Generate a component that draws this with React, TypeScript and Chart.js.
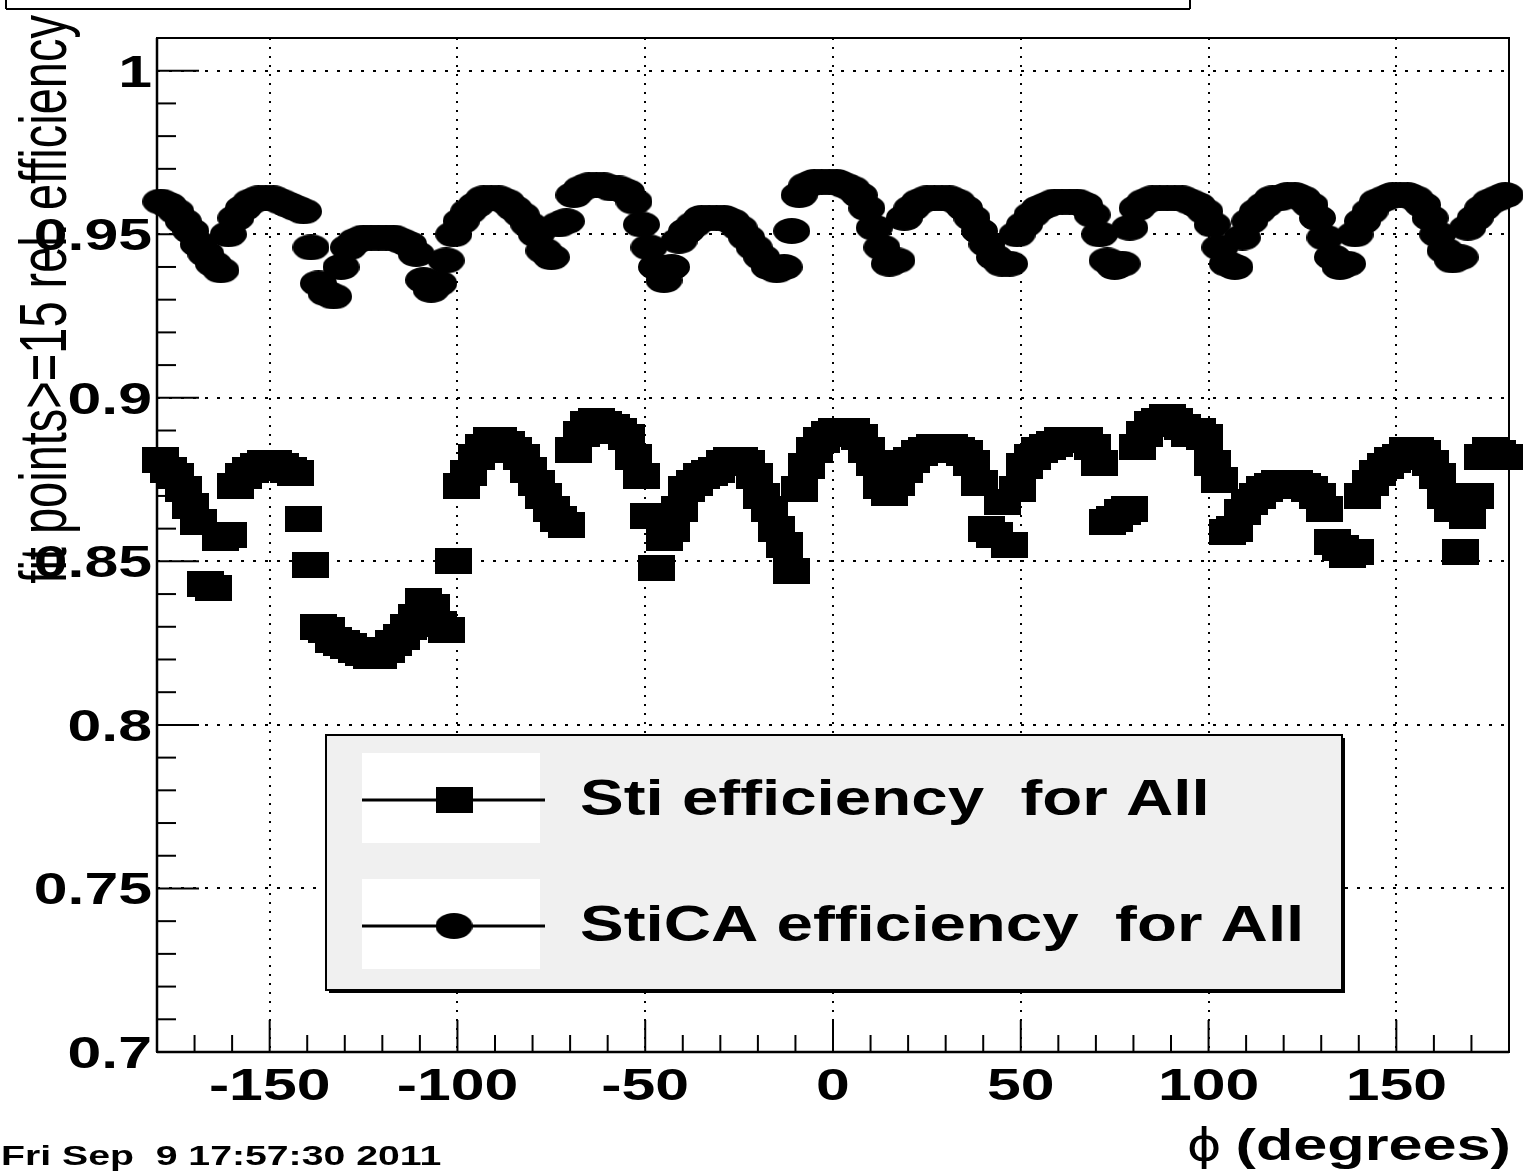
import React, { useEffect, useRef } from 'react';
import { Chart, registerables } from 'chart.js';

Chart.register(...registerables);

// phi bin centres (degrees)
const PHI = [
  -179, -177, -175, -173, -171, -169, -167, -165, -163, -161, -159, -157, -155, -153, -151,
  -149, -147, -145, -143, -141, -139, -137, -135, -133, -131, -129, -127, -125, -123, -121,
  -119, -117, -115, -113, -111, -109, -107, -105, -103, -101, -99, -97, -95, -93, -91,
  -89, -87, -85, -83, -81, -79, -77, -75, -73, -71, -69, -67, -65, -63, -61,
  -59, -57, -55, -53, -51, -49, -47, -45, -43, -41, -39, -37, -35, -33, -31,
  -29, -27, -25, -23, -21, -19, -17, -15, -13, -11, -9, -7, -5, -3, -1,
  1, 3, 5, 7, 9, 11, 13, 15, 17, 19, 21, 23, 25, 27, 29,
  31, 33, 35, 37, 39, 41, 43, 45, 47, 49, 51, 53, 55, 57, 59,
  61, 63, 65, 67, 69, 71, 73, 75, 77, 79, 81, 83, 85, 87, 89,
  91, 93, 95, 97, 99, 101, 103, 105, 107, 109, 111, 113, 115, 117, 119,
  121, 123, 125, 127, 129, 131, 133, 135, 137, 139, 141, 143, 145, 147, 149,
  151, 153, 155, 157, 159, 161, 163, 165, 167, 169, 171, 173, 175, 177, 179,
];

// Sti efficiency (squares)
const STI = [
  0.881, 0.878, 0.876, 0.872, 0.867, 0.862, 0.843, 0.842, 0.857, 0.858, 0.873, 0.876, 0.878, 0.879, 0.880,
  0.880, 0.879, 0.878, 0.877, 0.863, 0.849, 0.830, 0.829, 0.826, 0.825, 0.824, 0.823, 0.822, 0.821, 0.821,
  0.823, 0.825, 0.827, 0.830, 0.833, 0.838, 0.836, 0.831, 0.829, 0.850, 0.873, 0.877, 0.882, 0.885, 0.887,
  0.887, 0.886, 0.884, 0.882, 0.878, 0.874, 0.870, 0.866, 0.863, 0.861, 0.884, 0.889, 0.892, 0.893, 0.892,
  0.891, 0.890, 0.888, 0.882, 0.876, 0.864, 0.848, 0.857, 0.860, 0.866, 0.872, 0.874, 0.876, 0.877, 0.878,
  0.880, 0.881, 0.881, 0.880, 0.876, 0.870, 0.866, 0.860, 0.855, 0.847, 0.872, 0.879, 0.884, 0.887, 0.889,
  0.890, 0.890, 0.890, 0.888, 0.884, 0.880, 0.873, 0.871, 0.874, 0.878, 0.881, 0.883, 0.884, 0.885, 0.885,
  0.885, 0.884, 0.883, 0.880, 0.874, 0.860, 0.858, 0.868, 0.855, 0.872, 0.879, 0.882, 0.884, 0.885, 0.886,
  0.887, 0.887, 0.887, 0.887, 0.885, 0.880, 0.862, 0.863, 0.865, 0.866, 0.885, 0.889, 0.892, 0.893, 0.894,
  0.893, 0.891, 0.889, 0.890, 0.888, 0.880, 0.875, 0.859, 0.860, 0.865, 0.868, 0.870, 0.872, 0.873, 0.874,
  0.874, 0.874, 0.873, 0.872, 0.870, 0.866, 0.856, 0.854, 0.852, 0.853, 0.870, 0.874, 0.877, 0.879, 0.881,
  0.882, 0.884, 0.884, 0.883, 0.880, 0.876, 0.870, 0.866, 0.853, 0.864, 0.870, 0.882, 0.884, 0.883, 0.882,
];

// StiCA efficiency (circles)
const STICA = [
  0.960, 0.959, 0.957, 0.954, 0.951, 0.947, 0.944, 0.941, 0.939, 0.950, 0.955, 0.958, 0.960, 0.961, 0.961,
  0.961, 0.960, 0.959, 0.958, 0.957, 0.946, 0.935, 0.932, 0.931, 0.940, 0.946, 0.948, 0.949, 0.949, 0.949,
  0.949, 0.949, 0.948, 0.947, 0.944, 0.936, 0.933, 0.935, 0.942, 0.950, 0.954, 0.957, 0.959, 0.961, 0.961,
  0.961, 0.960, 0.958, 0.956, 0.953, 0.950, 0.945, 0.943, 0.953, 0.954, 0.962, 0.964, 0.965, 0.965, 0.965,
  0.964, 0.964, 0.963, 0.960, 0.953, 0.946, 0.940, 0.936, 0.940, 0.948, 0.951, 0.953, 0.955, 0.955, 0.955,
  0.955, 0.954, 0.952, 0.949, 0.946, 0.943, 0.940, 0.939, 0.940, 0.951, 0.962, 0.965, 0.966, 0.966, 0.966,
  0.966, 0.965, 0.964, 0.962, 0.958, 0.952, 0.946, 0.941, 0.942, 0.955, 0.958, 0.960, 0.961, 0.961, 0.961,
  0.961, 0.960, 0.958, 0.955, 0.951, 0.947, 0.943, 0.941, 0.941, 0.950, 0.953, 0.956, 0.958, 0.959, 0.960,
  0.960, 0.960, 0.960, 0.959, 0.956, 0.950, 0.942, 0.940, 0.941, 0.952, 0.958, 0.960, 0.961, 0.961, 0.961,
  0.961, 0.961, 0.960, 0.959, 0.957, 0.953, 0.946, 0.941, 0.940, 0.949, 0.954, 0.957, 0.959, 0.961, 0.961,
  0.962, 0.962, 0.961, 0.959, 0.955, 0.949, 0.943, 0.940, 0.941, 0.950, 0.954, 0.957, 0.960, 0.961, 0.962,
  0.962, 0.962, 0.961, 0.959, 0.955, 0.950, 0.945, 0.942, 0.943, 0.952, 0.955, 0.958, 0.960, 0.961, 0.962,
];

const X_TICKS = [-150, -100, -50, 0, 50, 100, 150];
const X_TICK_LABELS = ['-150', '-100', '-50', '0', '50', '100', '150'];
const Y_TICKS = [0.7, 0.75, 0.8, 0.85, 0.9, 0.95, 1];
const Y_TICK_LABELS = ['0.7', '0.75', '0.8', '0.85', '0.9', '0.95', '1'];
const SERIES_LABELS = ['Sti efficiency  for All', 'StiCA efficiency  for All'];
const Y_TITLE = 'fit points>=15 rel. efficiency';
const X_TITLE_SYMBOL = 'ϕ';
const X_TITLE_TEXT = '(degrees)';
const DATE_TEXT = 'Fri Sep  9 17:57:30 2011';

const FONT = '"Liberation Sans", Arial, sans-serif';
const MARK_W = 37;
const MARK_H = 26;

function makeMarker(kind: 'square' | 'circle'): HTMLCanvasElement {
  const c = document.createElement('canvas');
  c.width = MARK_W;
  c.height = MARK_H;
  const g = c.getContext('2d')!;
  g.fillStyle = '#000';
  if (kind === 'square') {
    g.fillRect(0, 0, MARK_W, MARK_H);
  } else {
    g.beginPath();
    g.ellipse(MARK_W / 2, MARK_H / 2, MARK_W / 2, MARK_H / 2, 0, 0, Math.PI * 2);
    g.fill();
  }
  return c;
}

function stretchText(
  ctx: CanvasRenderingContext2D,
  text: string,
  x: number,
  y: number,
  font: string,
  align: CanvasTextAlign,
  sx: number
) {
  ctx.save();
  ctx.font = font;
  ctx.textAlign = align;
  ctx.textBaseline = 'alphabetic';
  ctx.fillStyle = '#000';
  ctx.translate(x, y);
  ctx.scale(sx, 1);
  ctx.fillText(text, 0, 0);
  ctx.restore();
}

function line(ctx: CanvasRenderingContext2D, x1: number, y1: number, x2: number, y2: number) {
  ctx.beginPath();
  ctx.moveTo(x1, y1);
  ctx.lineTo(x2, y2);
  ctx.stroke();
}

export default function App() {
  const ref = useRef<HTMLCanvasElement | null>(null);

  useEffect(() => {
    const canvas = ref.current;
    if (!canvas) return;
    const square = makeMarker('square');
    const circle = makeMarker('circle');
    const markers = [square, circle];

    const decor = {
      id: 'rootDecor',
      afterDraw(chart: any) {
        const ctx: CanvasRenderingContext2D = chart.ctx;
        const xs = chart.scales.x;
        const ys = chart.scales.y;
        const { left, right, top, bottom } = chart.chartArea;
        ctx.save();
        ctx.strokeStyle = '#000';
        ctx.setLineDash([]);

        // title box remnant at the top
        ctx.lineWidth = 2;
        line(ctx, 6, 0, 6, 9);
        line(ctx, 6, 9, 1190, 9);
        line(ctx, 1190, 0, 1190, 9);

        // frame
        ctx.lineWidth = 2;
        ctx.strokeRect(left, top, right - left, bottom - top);
        ctx.lineWidth = 2.5;
        line(ctx, left, top, left, bottom);
        line(ctx, left, bottom, right, bottom);

        // x ticks
        ctx.lineWidth = 2;
        for (let v = -170; v <= 170; v += 10) {
          const px = xs.getPixelForValue(v);
          const major = X_TICKS.includes(v);
          line(ctx, px, bottom, px, bottom - (major ? 32 : 17));
        }
        // y ticks
        for (let k = 71; k <= 100; k++) {
          const v = k / 100;
          const py = ys.getPixelForValue(v);
          const major = k % 5 === 0;
          line(ctx, left, py, left + (major ? 42 : 19), py);
        }

        // tick labels
        const tickFont = `bold 44px ${FONT}`;
        X_TICKS.forEach((v, i) => {
          stretchText(ctx, X_TICK_LABELS[i], xs.getPixelForValue(v), 1100, tickFont, 'center', 1.38);
        });
        Y_TICKS.forEach((v, i) => {
          stretchText(ctx, Y_TICK_LABELS[i], 152, ys.getPixelForValue(v) + 16, tickFont, 'right', 1.38);
        });

        // x title
        ctx.save();
        ctx.font = `bold 45px ${FONT}`;
        const tw = ctx.measureText(X_TITLE_TEXT).width * 1.36;
        ctx.restore();
        stretchText(ctx, X_TITLE_TEXT, 1511, 1160, `bold 45px ${FONT}`, 'right', 1.36);
        stretchText(ctx, X_TITLE_SYMBOL, 1511 - tw - 14, 1160, `44px "DejaVu Sans", ${FONT}`, 'right', 1.2);

        // y title
        ctx.save();
        ctx.translate(66, 15);
        ctx.rotate(-Math.PI / 2);
        ctx.scale(1, 1.42);
        ctx.font = `47px ${FONT}`;
        ctx.textAlign = 'right';
        ctx.textBaseline = 'alphabetic';
        ctx.fillStyle = '#000';
        ctx.fillText(Y_TITLE, 0, 0);
        ctx.restore();

        // date stamp
        stretchText(ctx, DATE_TEXT, 1, 1165, `bold 28px ${FONT}`, 'left', 1.4);

        // legend
        const lx = 326, ly = 735, lw = 1016, lh = 255;
        ctx.fillStyle = '#000';
        ctx.fillRect(lx + 3, ly + 3, lw, lh);
        ctx.fillStyle = '#f0f0f0';
        ctx.fillRect(lx, ly, lw, lh);
        ctx.lineWidth = 2;
        ctx.strokeRect(lx, ly, lw, lh);
        const rows = [800, 926];
        rows.forEach((cy, i) => {
          ctx.fillStyle = '#ffffff';
          ctx.fillRect(362, cy - 47, 178, 90);
          ctx.strokeStyle = '#000';
          ctx.lineWidth = 3;
          line(ctx, 362, cy, 545, cy);
          const m = markers[i];
          ctx.drawImage(m, 454 - m.width / 2, cy - m.height / 2);
          stretchText(ctx, SERIES_LABELS[i], 580, cy + 15, `bold 50px ${FONT}`, 'left', 1.31);
        });
        ctx.restore();
      },
    };

    const chart = new Chart(canvas, {
      type: 'scatter',
      data: {
        datasets: [
          {
            label: SERIES_LABELS[0],
            data: PHI.map((x, i) => ({ x, y: STI[i] })),
            pointStyle: square as any,
            pointRadius: 13,
            backgroundColor: '#000',
            borderColor: '#000',
            showLine: false,
            clip: false as any,
          },
          {
            label: SERIES_LABELS[1],
            data: PHI.map((x, i) => ({ x, y: STICA[i] })),
            pointStyle: circle as any,
            pointRadius: 13,
            backgroundColor: '#000',
            borderColor: '#000',
            showLine: false,
            clip: false as any,
          },
        ],
      },
      options: {
        animation: false,
        responsive: false,
        devicePixelRatio: 1,
        events: [],
        layout: { padding: { top: 38, right: 11, left: 0, bottom: 0 } },
        plugins: { legend: { display: false }, tooltip: { enabled: false }, title: { display: false } },
        scales: {
          x: {
            type: 'linear',
            min: -180,
            max: 180,
            ticks: { display: false, stepSize: 50, includeBounds: false } as any,
            grid: { color: '#000', lineWidth: 2, drawTicks: false },
            border: { display: false, dash: [2, 7] },
            afterFit: (s: any) => {
              s.height = 120;
            },
          },
          y: {
            type: 'linear',
            min: 0.7,
            max: 1.01,
            ticks: { display: false, stepSize: 0.05, includeBounds: false } as any,
            grid: { color: '#000', lineWidth: 2, drawTicks: false },
            border: { display: false, dash: [3, 9] },
            afterFit: (s: any) => {
              s.width = 157;
            },
          },
        },
      },
      plugins: [decor],
    });
    return () => chart.destroy();
  }, []);

  return (
    <div style={{ position: 'absolute', left: 0, top: 0, width: 1523, height: 1172, background: '#fff' }}>
      <canvas ref={ref} width={1523} height={1172} style={{ width: 1523, height: 1172, display: 'block' }} />
    </div>
  );
}
